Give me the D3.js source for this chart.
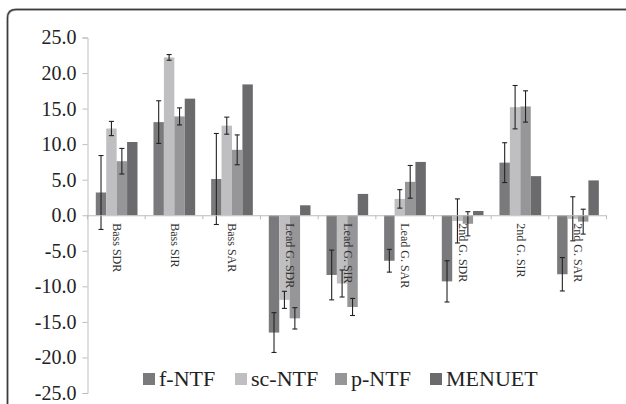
<!DOCTYPE html>
<html>
<head>
<meta charset="utf-8">
<script src="https://cdn.jsdelivr.net/npm/d3@7/dist/d3.min.js"></script>
<style>
  html, body { margin: 0; padding: 0; background: #fff; }
  svg { display: block; }
  svg text { font-family: "Liberation Serif", "Times New Roman", Times, "DejaVu Serif", serif; }
</style>
</head>
<body>
<svg id="chart" width="626" height="404"></svg>
<script>
const categories = ["Bass SDR", "Bass SIR", "Bass SAR", "Lead G. SDR", "Lead G. SIR", "Lead G. SAR", "2nd G. SDR", "2nd G. SIR", "2nd G. SAR"];
const seriesNames = ["f-NTF", "sc-NTF", "p-NTF", "MENUET"];
const fNTF    = [3.2, 13.1, 5.1, -16.5, -8.4, -6.4, -9.3, 7.4, -8.3];
const fNTFErr = [5.2, 3.0, 6.4, 2.8, 3.5, 1.6, 2.9, 2.8, 2.35];
const scNTF    = [12.2, 22.2, 12.6, -11.9, -9.6, 2.3, -0.8, 15.2, -0.5];
const scNTFErr = [1.0, 0.4, 1.2, 1.2, 1.9, 1.3, 3.1, 3.05, 3.1];
const pNTF    = [7.6, 13.9, 9.2, -14.5, -12.9, 4.7, -1.2, 15.3, -0.9];
const pNTFErr = [1.8, 1.2, 2.1, 1.5, 1.2, 2.3, 1.7, 2.2, 1.75];
const menuet    = [10.3, 16.4, 18.4, 1.4, 3.0, 7.5, 0.6, 5.5, 4.9];
const menuetErr = [null, null, null, null, null, null, null, null, null];
const yTicks = [25, 20, 15, 10, 5, 0, -5, -10, -15, -20, -25];

const seriesValues = [fNTF, scNTF, pNTF, menuet];
const seriesErrors = [fNTFErr, scNTFErr, pNTFErr, menuetErr];
const colors = ["#7a7a7c", "#bfbfc1", "#969698", "#6b6b6d"];

const svg = d3.select("#chart");

// frame
svg.append("path")
  .attr("d", "M7.5,404 L7.5,18 Q7.5,9.5 16,9.5 L626,9.5")
  .attr("fill", "none").attr("stroke", "#d0d0d0").attr("stroke-width", 3);
svg.append("path")
  .attr("d", "M7.5,404 L7.5,18 Q7.5,9.5 16,9.5 L626,9.5")
  .attr("fill", "none").attr("stroke", "#3c3c3c").attr("stroke-width", 1.4);

const x0 = d3.scaleBand().domain(categories).range([87, 606]).padding(0);
const x1 = d3.scaleBand().domain(seriesNames).range([8.8, 50.5]).padding(0);
const y = d3.scaleLinear().domain([-25, 25]).range([393, 37.5]);

// y axis
const yAxis = d3.axisLeft(y).tickValues(yTicks).tickSize(5).tickPadding(6)
  .tickFormat(d3.format(".1f"));
const gy = svg.append("g").attr("transform", "translate(87.5,0)").call(yAxis);
gy.attr("font-family", null).attr("font-size", null);
gy.select(".domain").attr("stroke", "#bdbdbd");
gy.selectAll(".tick line").attr("stroke", "#bdbdbd");
gy.selectAll(".tick text").attr("font-size", 20)
  .attr("fill", "#222").text(d => d3.format(".1f")(d).replace("−", "-"));

// bars
const groups = svg.append("g").selectAll("g").data(categories).join("g")
  .attr("transform", d => `translate(${x0(d)},0)`);

seriesNames.forEach((s, si) => {
  groups.append("rect")
    .attr("x", x1(s))
    .attr("width", x1.bandwidth())
    .attr("y", (d, i) => y(Math.max(0, seriesValues[si][i])))
    .attr("height", (d, i) => Math.abs(y(seriesValues[si][i]) - y(0)))
    .attr("fill", colors[si]);
});

// x axis (at zero)
const xAxis = d3.axisBottom(x0).tickSize(0).tickFormat("");
const gx = svg.append("g").attr("transform", `translate(0,${y(0)})`).call(xAxis);
gx.select(".domain").attr("stroke", "#bdbdbd");
const bounds = categories.map(c => x0(c)).concat([x0(categories[categories.length - 1]) + x0.bandwidth()]);
svg.append("g").selectAll("line").data(bounds).join("line")
  .attr("x1", d => d + 0.5).attr("x2", d => d + 0.5)
  .attr("y1", y(0)).attr("y2", y(0) + 4)
  .attr("stroke", "#bdbdbd");

// error bars
seriesNames.forEach((s, si) => {
  const eg = groups.filter((d, i) => seriesErrors[si][i] != null);
  const cx = x1(s) + x1.bandwidth() / 2;
  const v = (d) => seriesValues[si][categories.indexOf(d)];
  const e = (d) => seriesErrors[si][categories.indexOf(d)];
  eg.append("line")
    .attr("x1", cx).attr("x2", cx)
    .attr("y1", d => y(v(d) + e(d))).attr("y2", d => y(v(d) - e(d)))
    .attr("stroke", "#222").attr("stroke-width", 1.1);
  [1, -1].forEach(sg => {
    eg.append("line")
      .attr("x1", cx - 2.5).attr("x2", cx + 2.5)
      .attr("y1", d => y(v(d) + sg * e(d))).attr("y2", d => y(v(d) + sg * e(d)))
      .attr("stroke", "#222").attr("stroke-width", 1.1);
  });
});

// category labels (rotated)
svg.append("g").selectAll("text").data(categories).join("text")
  .attr("transform", d => `translate(${x0(d) + x0.bandwidth() / 2},${y(0) + 8}) rotate(90)`)
  .attr("font-size", 12).attr("fill", "#333")
  .attr("dominant-baseline", "middle")
  .text(d => d);

// legend
const legendX = [143, 235, 335, 430];
const lg = svg.append("g").selectAll("g").data(seriesNames).join("g")
  .attr("transform", (d, i) => `translate(${legendX[i]},373)`);
lg.append("rect").attr("width", 12).attr("height", 12).attr("fill", (d, i) => colors[i]);
lg.append("text").attr("x", 16).attr("y", 13)
  .attr("font-size", 22).attr("fill", "#222")
  .text(d => d);
</script>
</body>
</html>
